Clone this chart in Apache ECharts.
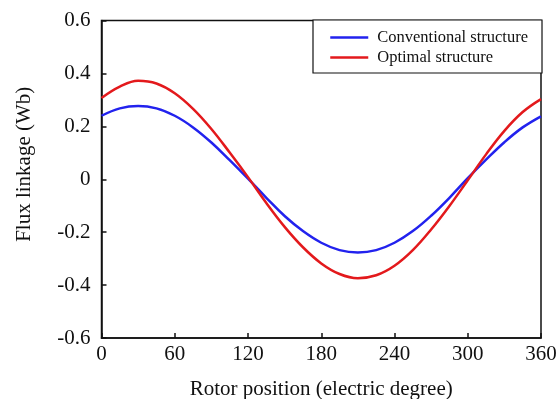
<!DOCTYPE html>
<html>
<head>
<meta charset="utf-8">
<script src="https://cdn.jsdelivr.net/npm/echarts@6/dist/echarts.min.js"></script>
<style>html,body{margin:0;padding:0;background:#fff}#c{width:559px;height:399px}</style>
</head>
<body>
<div id="c"></div>
<script>
const positions = [0,15,30,45,60,75,90,105,120,135,150,165,180,195,210,225,240,255,270,285,300,315,330,345,360];
const conventional = [0.240,0.268,0.277,0.268,0.240,0.196,0.139,0.072,0.002,-0.070,-0.139,-0.196,-0.240,-0.268,-0.277,-0.268,-0.240,-0.196,-0.138,-0.070,0.004,0.074,0.140,0.196,0.238];
const optimal = [0.307,0.350,0.372,0.362,0.325,0.266,0.190,0.101,0.008,-0.090,-0.180,-0.257,-0.318,-0.358,-0.374,-0.363,-0.327,-0.268,-0.190,-0.101,-0.004,0.094,0.183,0.254,0.303];
const seriesNames = ['Conventional structure','Optimal structure'];
const xTicks = [0,60,120,180,240,300,360];
const yTicks = [-0.6,-0.4,-0.2,0,0.2,0.4,0.6];

const font = 'Liberation Serif, Times New Roman, serif';
const chart = echarts.init(document.getElementById('c'));
chart.setOption({
  animation:false,
  backgroundColor:'#fff',
  grid:{left:101.5,right:18,top:20.5,bottom:61,show:true,borderColor:'#111',borderWidth:1.5,containLabel:false,outerBoundsMode:'none'},
  legend:{
    left:313, top:20, orient:'vertical',
    data:seriesNames,
    itemWidth:38, itemHeight:14, itemGap:3,
    padding:[9,14,7,16],
    itemStyle:{opacity:0},
    lineStyle:{width:2.5},
    borderColor:'#111', borderWidth:1.2, backgroundColor:'#fff',
    textStyle:{fontFamily:font,fontSize:16.5,color:'#111',padding:[0,0,0,4]}
  },
  xAxis:{
    type:'value', min:xTicks[0], max:xTicks[xTicks.length-1], interval:60,
    name:'Rotor position (electric degree)', nameLocation:'middle', nameGap:41,
    nameTextStyle:{fontFamily:font,fontSize:21,color:'#111'},
    axisLine:{onZero:false,lineStyle:{color:'#111',width:1.5}},
    axisTick:{inside:true,length:5,lineStyle:{color:'#111',width:1.5}},
    axisLabel:{fontFamily:font,fontSize:21,color:'#111',margin:6},
    splitLine:{show:false}
  },
  yAxis:{
    type:'value', min:yTicks[0], max:yTicks[yTicks.length-1], interval:0.2,
    name:'Flux linkage (Wb)', nameLocation:'middle', nameGap:67,
    nameTextStyle:{fontFamily:font,fontSize:21,color:'#111',padding:[0,0,0,30]},
    axisLine:{onZero:false,lineStyle:{color:'#111',width:1.5}},
    axisTick:{inside:true,length:5,lineStyle:{color:'#111',width:1.5}},
    axisLabel:{fontFamily:font,fontSize:21,color:'#111',margin:11,
      formatter:function(v){ return Math.abs(v)<1e-9 ? '0' : v.toFixed(1); }},
    splitLine:{show:false}
  },
  series:[
    {name:seriesNames[0],type:'line',smooth:0.4,symbol:'none',
     lineStyle:{color:'#2222ee',width:2.5},itemStyle:{color:'#2222ee'},
     data:positions.map((p,i)=>[p,conventional[i]])},
    {name:seriesNames[1],type:'line',smooth:0.4,symbol:'none',
     lineStyle:{color:'#e3191c',width:2.5},itemStyle:{color:'#e3191c'},
     data:positions.map((p,i)=>[p,optimal[i]])}
  ]
});
</script>
</body>
</html>
